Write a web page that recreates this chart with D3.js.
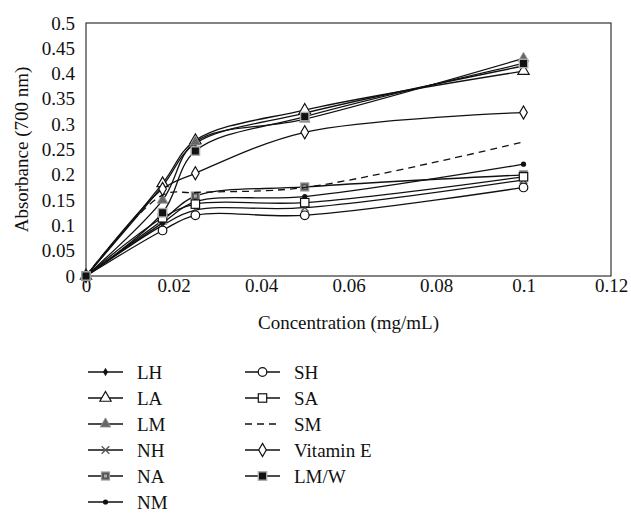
<!DOCTYPE html>
<html>
<head>
<meta charset="utf-8">
<script src="https://cdn.jsdelivr.net/npm/d3@7"></script>
<style>
  body { margin: 0; background: #fff; }
  svg { font-family: "Liberation Serif", "DejaVu Serif", serif; }
</style>
</head>
<body>
<svg width="631" height="513"></svg>
<script>
// concentrations (mg/mL)
const conc = [0, 0.0175, 0.025, 0.05, 0.1];
const seriesNames = ["LH", "LA", "LM", "NH", "NA", "NM", "SH", "SA", "SM", "Vitamin E", "LM/W"];
// absorbance at 700 nm
const LH = [0, 0.178, 0.262, 0.322, 0.415];
const LA = [0, 0.183, 0.268, 0.328, 0.405];
const LM = [0, 0.150, 0.265, 0.310, 0.430];
const NH = [0, 0.100, 0.130, 0.135, 0.190];
const NA = [0, 0.110, 0.158, 0.176, 0.200];
const NM = [0, 0.105, 0.147, 0.157, 0.221];
const SH = [0, 0.090, 0.120, 0.120, 0.175];
const SA = [0, 0.115, 0.142, 0.145, 0.196];
const SM = [0, 0.160, 0.165, 0.175, 0.265];
const VitE = [0, 0.172, 0.203, 0.284, 0.323];
const LMW = [0, 0.125, 0.247, 0.315, 0.420];
const xTicks = [0, 0.02, 0.04, 0.06, 0.08, 0.1, 0.12];
const yTicks = [0, 0.05, 0.1, 0.15, 0.2, 0.25, 0.3, 0.35, 0.4, 0.45, 0.5];

const values = [LH, LA, LM, NH, NA, NM, SH, SA, SM, VitE, LMW];
const series = seriesNames.map((name, i) => ({
  name: name,
  points: conc.map((c, j) => ({ x: c, y: values[i][j] })),
}));

const svg = d3.select("svg"),
  margin = { top: 23, right: 20, bottom: 237, left: 86 },
  width = 631 - margin.left - margin.right,
  height = 513 - margin.top - margin.bottom,
  g = svg.append("g").attr("transform", `translate(${margin.left},${margin.top})`);

const x = d3.scaleLinear().domain([0, 0.12]).range([0, width]);
const y = d3.scaleLinear().domain([0, 0.5]).range([height, 0]);

const fmt = (d) => String(+d.toFixed(2));

// frame
g.append("rect")
  .attr("width", width)
  .attr("height", height)
  .attr("fill", "none")
  .attr("stroke", "#333")
  .attr("stroke-width", 1.2);

// axes: labels only, no tick marks
g.append("g")
  .attr("transform", `translate(0,${height})`)
  .call(d3.axisBottom(x).tickValues(xTicks).tickFormat(fmt).tickSize(0).tickPadding(2))
  .call((a) => a.select(".domain").remove())
  .selectAll("text")
  .attr("font-size", 19)
  .attr("font-family", "Liberation Serif")
  .attr("fill", "#111");

g.append("g")
  .call(d3.axisLeft(y).tickValues(yTicks).tickFormat(fmt).tickSize(0).tickPadding(11))
  .call((a) => a.select(".domain").remove())
  .selectAll("text")
  .attr("font-size", 19)
  .attr("font-family", "Liberation Serif")
  .attr("fill", "#111");

// axis titles
svg.append("text")
  .attr("x", margin.left + width / 2)
  .attr("y", 329)
  .attr("text-anchor", "middle")
  .attr("font-size", 19)
  .attr("fill", "#111")
  .text("Concentration (mg/mL)");

svg.append("text")
  .attr("transform", `translate(28,${margin.top + height / 2}) rotate(-90)`)
  .attr("text-anchor", "middle")
  .attr("font-size", 19)
  .attr("fill", "#111")
  .text("Absorbance (700 nm)");

// marker drawing by series name
const sym = (type, size) => d3.symbol().type(type).size(size)();
const marker = (sel, name) => {
  switch (name) {
    case "LH":
      sel.append("path").attr("d", sym(d3.symbolDiamond, 22)).attr("fill", "#111");
      break;
    case "LA":
      sel.append("path").attr("d", sym(d3.symbolTriangle, 55)).attr("fill", "#fff").attr("stroke", "#111").attr("stroke-width", 1.2);
      break;
    case "LM":
      sel.append("path").attr("d", sym(d3.symbolTriangle, 50)).attr("fill", "#666").attr("stroke", "#999").attr("stroke-width", 0.8);
      break;
    case "NH":
      sel.append("path").attr("d", sym(d3.symbolX, 40)).attr("fill", "none").attr("stroke", "#555").attr("stroke-width", 1.3);
      break;
    case "NA":
      sel.append("rect").attr("x", -4).attr("y", -4).attr("width", 8).attr("height", 8).attr("fill", "#555").attr("stroke", "#999").attr("stroke-width", 1.2);
      sel.append("rect").attr("x", -1.5).attr("y", -1.5).attr("width", 3).attr("height", 3).attr("fill", "#aaa");
      break;
    case "NM":
      sel.append("circle").attr("r", 2.6).attr("fill", "#111");
      break;
    case "SH":
      sel.append("circle").attr("r", 4.3).attr("fill", "#fff").attr("stroke", "#111").attr("stroke-width", 1.2);
      break;
    case "SA":
      sel.append("rect").attr("x", -4.2).attr("y", -4.2).attr("width", 8.4).attr("height", 8.4).attr("fill", "#fff").attr("stroke", "#111").attr("stroke-width", 1.2);
      break;
    case "Vitamin E":
      sel.append("path").attr("d", sym(d3.symbolDiamond, 50)).attr("fill", "#fff").attr("stroke", "#111").attr("stroke-width", 1.2);
      break;
    case "LM/W":
      sel.append("rect").attr("x", -4.2).attr("y", -4.2).attr("width", 8.4).attr("height", 8.4).attr("fill", "#111").attr("stroke", "#aaa").attr("stroke-width", 1.4);
      break;
  }
};

const line = d3.line()
  .x((d) => x(d.x))
  .y((d) => y(d.y))
  .curve(d3.curveCatmullRom.alpha(0.5));

const sg = g.selectAll(".series")
  .data(series)
  .join("g")
  .attr("class", "series");

sg.append("path")
  .attr("d", (d) => line(d.points))
  .attr("fill", "none")
  .attr("stroke", "#111")
  .attr("stroke-width", 1.3)
  .attr("stroke-dasharray", (d) => (d.name === "SM" ? "7,5" : null));

sg.each(function (s) {
  d3.select(this)
    .selectAll(".pt")
    .data(s.points)
    .join("g")
    .attr("class", "pt")
    .attr("transform", (d) => `translate(${x(d.x)},${y(d.y)})`)
    .each(function () { marker(d3.select(this), s.name); });
});

// legend, two columns
const legendCols = [
  { x: 88, names: seriesNames.slice(0, 6) },
  { x: 245, names: seriesNames.slice(6) },
];
const legend = svg.append("g");
legendCols.forEach((col) => {
  col.names.forEach((name, i) => {
    const ly = 372 + i * 26;
    const item = legend.append("g").attr("transform", `translate(${col.x},${ly})`);
    item.append("line")
      .attr("x1", 0).attr("x2", 35)
      .attr("stroke", "#111")
      .attr("stroke-width", 1.3)
      .attr("stroke-dasharray", name === "SM" ? "7,5" : null);
    marker(item.append("g").attr("transform", "translate(17.5,0)"), name);
    item.append("text")
      .attr("x", 49)
      .attr("dy", "0.35em")
      .attr("font-size", 19)
      .attr("fill", "#111")
      .text(name);
  });
});
</script>
</body>
</html>
